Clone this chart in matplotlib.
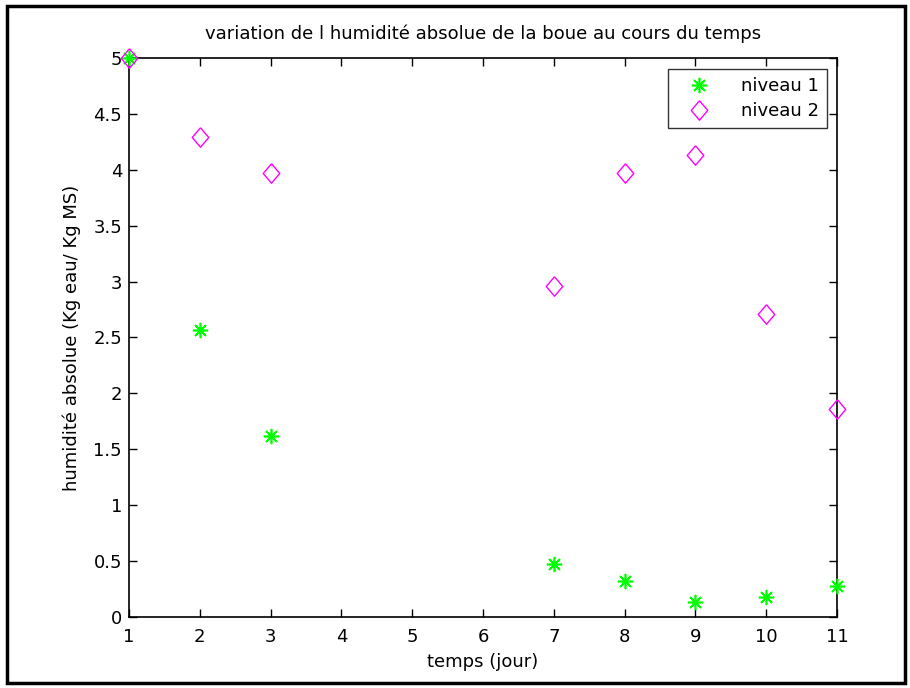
import numpy as np
import matplotlib.pyplot as plt
from matplotlib.patches import Rectangle

# donnees
jours = [1, 2, 3, 7, 8, 9, 10, 11]
niveau1 = [5.0, 2.57, 1.62, 0.47, 0.32, 0.13, 0.18, 0.28]
niveau2 = [5.0, 4.29, 3.97, 2.96, 3.97, 4.13, 2.71, 1.86]
xticks = list(range(1, 12))
yticks = [0, 0.5, 1, 1.5, 2, 2.5, 3, 3.5, 4, 4.5, 5]

plt.rcParams['font.family'] = ['DejaVu Sans']
fs = 13

# losange un peu plus haut que large, comme dans matlab
losange = [(0, 1), (0.85, 0), (0, -1), (-0.85, 0), (0, 1)]

fig = plt.figure(figsize=(9.1, 6.88), dpi=100)
ax = fig.add_axes([0.1418, 0.1032, 0.778, 0.8125])

ax.plot(jours, niveau1, linestyle='none', marker=(8, 2, 0), color='#00ff00',
        markersize=11, markeredgewidth=1.2, label='niveau 1', clip_on=False, zorder=3)
ax.plot(jours, niveau2, linestyle='none', marker=losange, markerfacecolor='none',
        markeredgecolor='#ff00ff', markersize=14, markeredgewidth=1.0,
        label='niveau 2', clip_on=False, zorder=3)

ax.set_xlim(1, 11)
ax.set_ylim(0, 5)
ax.set_xticks(xticks)
ax.set_yticks(yticks)
ax.set_yticklabels(['0', '0.5', '1', '1.5', '2', '2.5', '3', '3.5', '4', '4.5', '5'])
ax.tick_params(axis='both', direction='in', length=6, width=1, top=True, right=True,
               labelsize=fs, colors='black')
ax.tick_params(axis='x', pad=8)
ax.tick_params(axis='y', pad=5)
for s in ax.spines.values():
    s.set_linewidth(1.2)

ax.set_title('variation de l humidité absolue de la boue au cours du temps',
             fontsize=fs, pad=14)
ax.set_xlabel('temps (jour)', fontsize=fs, labelpad=5)
ax.set_ylabel('humidité absolue (Kg eau/ Kg MS)', fontsize=fs, labelpad=9)

leg = ax.legend(loc='upper right', bbox_to_anchor=(0.9985, 0.997), fontsize=fs,
                frameon=True, fancybox=False, edgecolor='black',
                handletextpad=1.0, borderpad=0.45, labelspacing=0.4, handlelength=2.6)
leg.get_frame().set_linewidth(1.0)

fig.patches.append(Rectangle((0.008, 0.007), 0.986, 0.984, transform=fig.transFigure,
                             fill=False, edgecolor='black', linewidth=2.5))

fig.savefig('out.png', dpi=100)
